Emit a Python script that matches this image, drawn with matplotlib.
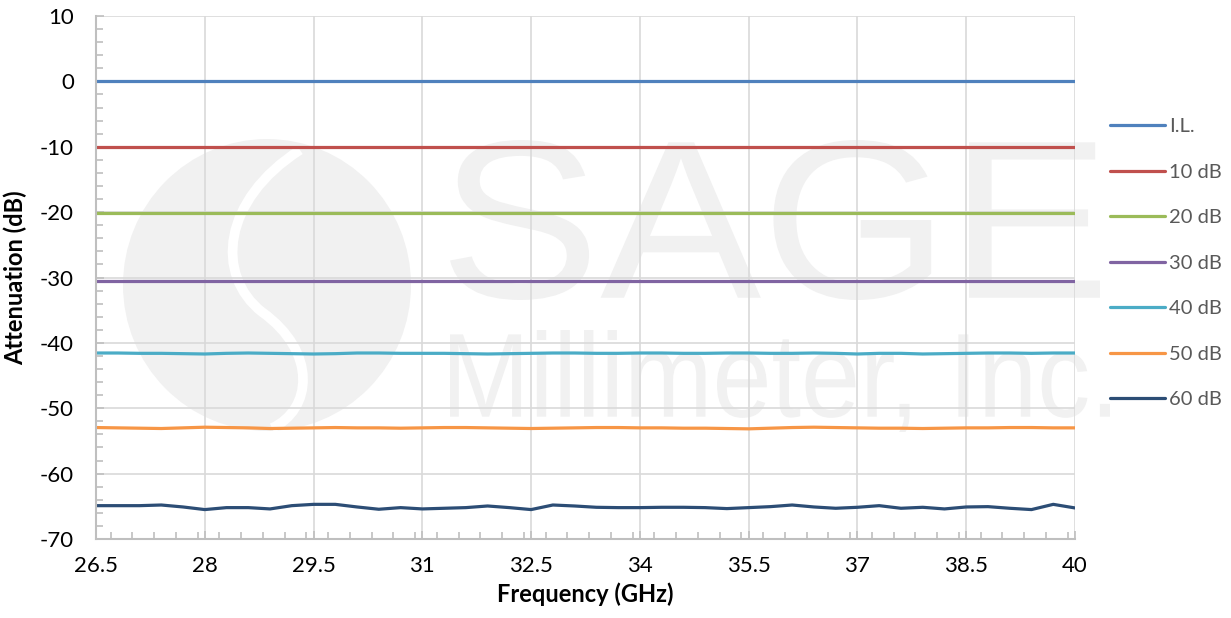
import numpy as np
import matplotlib
matplotlib.use("Agg")
import matplotlib.pyplot as plt
from matplotlib.ticker import MultipleLocator
from matplotlib.textpath import TextPath
from matplotlib.font_manager import FontProperties
from matplotlib.patches import PathPatch, Ellipse
from matplotlib.path import Path
import matplotlib.transforms as mtransforms

plt.rcParams['font.family'] = ['Lato', 'DejaVu Sans']
plt.rcParams['axes.unicode_minus'] = False

# frequency points (GHz)
freq = [26.5, 26.8, 27.1, 27.4, 27.7, 28.0, 28.3, 28.6, 28.9, 29.2,
        29.5, 29.8, 30.1, 30.4, 30.7, 31.0, 31.3, 31.6, 31.9, 32.2,
        32.5, 32.8, 33.1, 33.4, 33.7, 34.0, 34.3, 34.6, 34.9, 35.2,
        35.5, 35.8, 36.1, 36.4, 36.7, 37.0, 37.3, 37.6, 37.9, 38.2,
        38.5, 38.8, 39.1, 39.4, 39.7, 40.0]

il = [0.0] * 46
att10 = [-10.1] * 46
att20 = [-20.2] * 46
att30 = [-30.55] * 46
att40 = [-41.55, -41.55, -41.6, -41.6, -41.65, -41.7, -41.6, -41.55, -41.6, -41.65,
         -41.7, -41.65, -41.55, -41.55, -41.6, -41.6, -41.6, -41.65, -41.7, -41.65,
         -41.6, -41.55, -41.55, -41.6, -41.6, -41.55, -41.55, -41.6, -41.6, -41.55,
         -41.55, -41.6, -41.6, -41.55, -41.6, -41.7, -41.6, -41.6, -41.7, -41.65,
         -41.6, -41.55, -41.55, -41.6, -41.55, -41.55]
att50 = [-52.95, -53.0, -53.05, -53.1, -53.0, -52.9, -52.95, -53.0, -53.1, -53.05,
         -53.0, -52.95, -53.0, -53.0, -53.05, -53.0, -52.95, -52.95, -53.0, -53.05,
         -53.1, -53.05, -53.0, -52.95, -52.95, -53.0, -53.0, -53.05, -53.05, -53.1,
         -53.15, -53.05, -52.95, -52.9, -52.95, -53.0, -53.05, -53.05, -53.1, -53.05,
         -53.0, -53.0, -52.95, -52.95, -53.0, -53.0]
att60 = [-64.9, -64.9, -64.9, -64.8, -65.1, -65.5, -65.2, -65.2, -65.4, -64.9,
         -64.7, -64.7, -65.1, -65.45, -65.2, -65.4, -65.3, -65.2, -64.95, -65.2,
         -65.5, -64.8, -64.95, -65.15, -65.2, -65.2, -65.15, -65.15, -65.2, -65.35,
         -65.2, -65.05, -64.8, -65.1, -65.3, -65.15, -64.9, -65.3, -65.15, -65.4,
         -65.1, -65.05, -65.3, -65.5, -64.7, -65.25]

labels = ['I.L.', '10 dB', '20 dB', '30 dB', '40 dB', '50 dB', '60 dB']
series = [il, att10, att20, att30, att40, att50, att60]
colors = ['#4f81bd', '#c0504d', '#9bbb59', '#8064a2', '#4bacc6', '#f79646', '#2c4d75']

W, H = 1231, 618
fig = plt.figure(figsize=(W / 100, H / 100), dpi=100)
fig.patch.set_facecolor('white')

# --- faint watermark, drawn in pixel units from the top-left corner ---
pix = mtransforms.Affine2D().scale(1 / W, -1 / H).translate(0, 1) + fig.transFigure
wm = '#f1f1f1'
logo = Ellipse((267, 285), 288, 292, facecolor=wm, edgecolor='none',
               transform=pix, zorder=-2)
fig.patches.append(logo)
swoosh = Path([(300, 150), (222, 200), (215, 275), (262, 312),
               (318, 352), (312, 410), (272, 428)],
              [Path.MOVETO, Path.CURVE4, Path.CURVE4, Path.CURVE4,
               Path.CURVE4, Path.CURVE4, Path.CURVE4])
fig.patches.append(PathPatch(swoosh, facecolor='none', edgecolor='white',
                             lw=7, transform=pix, zorder=-1))


def watermark_text(s, x0, x1, top, bottom):
    tp = TextPath((0, 0), s, size=1, prop=FontProperties(family='Liberation Sans'))
    bb = tp.get_extents()
    sx = (x1 - x0) / bb.width
    sy = (bottom - top) / bb.height
    tr = mtransforms.Affine2D().translate(-bb.x0, -bb.y0).scale(sx, -sy).translate(x0, bottom) + pix
    fig.patches.append(PathPatch(tp, facecolor=wm, edgecolor='none',
                                 transform=tr, zorder=-1))


watermark_text('SAGE', 450, 1100, 140, 300)
watermark_text('Millimeter, Inc.', 450, 1110, 330, 432)

ax = fig.add_axes([96 / W, 79 / H, (1075 - 96) / W, (539 - 16) / H])
ax.set_facecolor('none')

for vals, lab, col in zip(series, labels, colors):
    ax.plot(freq, vals, color=col, lw=2.3, label=lab, solid_capstyle='round')

ax.set_xlim(26.5, 40)
ax.set_ylim(-70, 10)
ax.xaxis.set_minor_locator(MultipleLocator(0.3))
ax.yaxis.set_major_locator(MultipleLocator(10))
ax.yaxis.set_minor_locator(MultipleLocator(2))
ax.set_xticks([26.5, 28, 29.5, 31, 32.5, 34, 35.5, 37, 38.5, 40])
ax.set_xticklabels(['26.5', '28', '29.5', '31', '32.5', '34', '35.5', '37', '38.5', '40'])

ax.grid(True, which='major', color='#d9d9d9', lw=1.2)
ax.set_axisbelow(True)
for side in ['top', 'right']:
    ax.spines[side].set_visible(False)
for side in ['left', 'bottom']:
    ax.spines[side].set_color('#bfbfbf')
    ax.spines[side].set_linewidth(1.5)

ax.tick_params(which='both', direction='in', color='#bfbfbf', width=1.2,
               labelsize=16, labelcolor='black')
ax.tick_params(which='major', length=6)
ax.tick_params(which='minor', length=5)
ax.tick_params(axis='y', pad=16)
ax.tick_params(axis='x', pad=12)

ax.set_xlabel('Frequency (GHz)', fontsize=17, fontweight='bold', labelpad=5)
ax.set_ylabel('Attenuation (dB)', fontsize=17, fontweight='bold', labelpad=9)

leg = fig.legend(loc='upper left', bbox_to_anchor=(1102 / W, 1 - 110 / H),
                 frameon=False, fontsize=14.5, handlelength=2.75, handletextpad=0.2,
                 labelspacing=1.41, borderaxespad=0)
for t in leg.get_texts():
    t.set_color('#595959')

fig.savefig('out.png', dpi=100, facecolor='white')
